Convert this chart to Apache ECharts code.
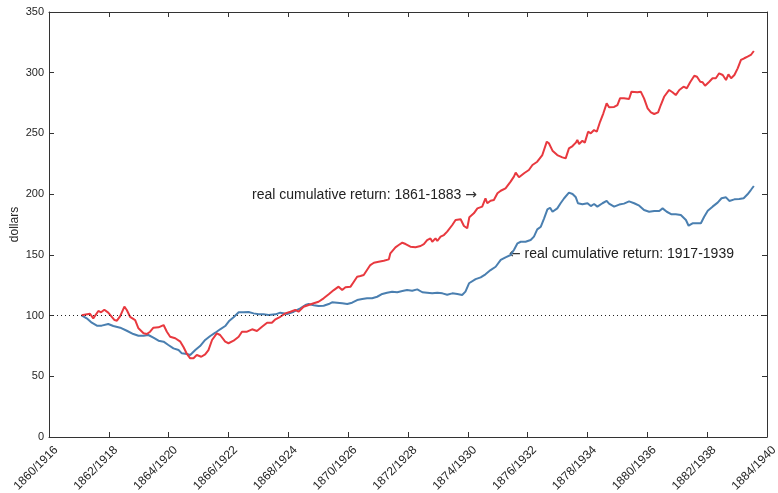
<!DOCTYPE html>
<html>
<head>
<meta charset="utf-8">
<script src="https://cdn.jsdelivr.net/npm/echarts@6/dist/echarts.min.js"></script>
<style>html,body{margin:0;padding:0;background:#fff}#c{width:778px;height:493px}</style>
</head>
<body>
<div id="c"></div>
<script>
// Tick labels for the x axis (year pairs)
var xTickLabels = ['1860/1916','1862/1918','1864/1920','1866/1922','1868/1924','1870/1926','1872/1928','1874/1930','1876/1932','1878/1934','1880/1936','1882/1938','1884/1940'];
var yTicks = [0, 50, 100, 150, 200, 250, 300, 350];

// real cumulative return 1861-1883 (red): year, dollars
var redYears = [1861.09,1861.37,1861.48,1861.65,1861.74,1861.85,1861.98,1862.19,1862.27,1862.38,1862.52,1862.60,1862.71,1862.88,1862.99,1863.16,1863.27,1863.38,1863.49,1863.66,1863.83,1863.94,1864.05,1864.22,1864.39,1864.50,1864.61,1864.72,1864.83,1864.94,1865.09,1865.22,1865.33,1865.45,1865.61,1865.72,1865.89,1866.00,1866.17,1866.34,1866.45,1866.62,1866.79,1866.95,1867.12,1867.29,1867.45,1867.57,1867.73,1867.90,1868.07,1868.23,1868.34,1868.51,1868.68,1868.85,1869.01,1869.18,1869.35,1869.52,1869.68,1869.80,1869.91,1870.08,1870.19,1870.30,1870.41,1870.52,1870.63,1870.74,1870.86,1871.02,1871.19,1871.36,1871.41,1871.58,1871.69,1871.81,1871.92,1872.08,1872.25,1872.42,1872.53,1872.64,1872.75,1872.81,1872.92,1872.98,1873.09,1873.20,1873.31,1873.48,1873.59,1873.76,1873.87,1873.98,1874.05,1874.20,1874.32,1874.48,1874.59,1874.65,1874.76,1874.87,1874.99,1875.10,1875.26,1875.43,1875.54,1875.60,1875.71,1875.88,1876.04,1876.16,1876.32,1876.49,1876.64,1876.71,1876.83,1876.99,1877.16,1877.27,1877.38,1877.50,1877.61,1877.66,1877.72,1877.83,1877.91,1878.02,1878.11,1878.22,1878.31,1878.42,1878.53,1878.64,1878.72,1878.89,1879.00,1879.09,1879.22,1879.39,1879.47,1879.67,1879.78,1879.89,1880.01,1880.12,1880.23,1880.36,1880.45,1880.56,1880.73,1880.84,1880.95,1881.07,1881.21,1881.32,1881.43,1881.57,1881.66,1881.77,1881.85,1881.93,1882.07,1882.18,1882.29,1882.40,1882.52,1882.63,1882.71,1882.80,1882.91,1883.02,1883.13,1883.24,1883.35,1883.46,1883.56];
var redValues = [100.2,101.5,97.7,103.8,102.7,104.8,102.4,96.3,95.8,99.6,107.3,104.6,99.0,96.3,89.5,85.4,84.8,86.7,90.0,90.3,92.2,86.7,82.6,81.3,78.5,73.9,68.4,64.8,64.8,67.5,66.1,68.1,71.6,79.9,85.4,84.0,78.5,77.2,79.3,82.6,86.7,86.7,88.7,87.3,90.8,94.1,94.1,96.9,99.0,101.8,103.2,104.6,103.2,107.3,108.7,110.1,111.4,114.2,117.5,121.0,123.8,121.0,123.3,123.8,127.9,132.0,132.6,133.4,137.5,141.6,143.5,144.4,145.2,146.3,151.3,156.2,158.1,160.0,158.9,156.7,156.2,157.3,158.9,162.2,163.6,160.8,163.6,161.4,165.0,166.3,169.1,174.6,178.7,179.3,173.8,171.9,181.0,184.2,188.3,189.7,196.6,192.5,194.6,195.2,200.7,202.8,204.8,210.3,214.4,217.7,213.9,217.2,219.9,224.0,226.7,232.2,243.2,241.9,235.8,232.2,230.3,229.5,237.7,239.6,242.4,244.6,241.3,244.0,242.4,251.4,250.1,252.8,251.4,259.6,266.6,274.8,271.5,271.8,273.4,279.0,278.9,278.4,284.4,283.9,284.4,278.9,270.7,267.4,266.0,267.4,273.4,280.2,285.8,283.9,281.6,285.8,288.5,287.2,292.1,297.5,296.7,292.6,292.1,289.3,292.6,295.4,295.4,299.5,298.1,294.0,298.7,295.4,298.1,303.6,310.5,311.9,313.2,314.6,317.9];

// real cumulative return 1917-1939 (blue): year (1861-1883 scale), dollars
var blueYears = [1861.09,1861.26,1861.43,1861.60,1861.76,1861.98,1862.15,1862.38,1862.60,1862.82,1862.99,1863.16,1863.32,1863.49,1863.66,1863.83,1863.99,1864.16,1864.33,1864.44,1864.61,1864.72,1864.89,1865.05,1865.22,1865.39,1865.56,1865.72,1865.89,1866.03,1866.17,1866.34,1866.50,1866.67,1866.84,1867.01,1867.17,1867.34,1867.57,1867.73,1867.96,1868.18,1868.40,1868.57,1868.68,1868.85,1869.01,1869.18,1869.35,1869.46,1869.63,1869.80,1869.97,1870.13,1870.30,1870.47,1870.63,1870.80,1870.97,1871.14,1871.30,1871.47,1871.64,1871.81,1871.97,1872.14,1872.31,1872.48,1872.64,1872.81,1872.98,1873.15,1873.31,1873.48,1873.65,1873.81,1873.92,1874.04,1874.09,1874.26,1874.43,1874.59,1874.76,1874.93,1875.10,1875.26,1875.43,1875.54,1875.66,1875.77,1875.93,1876.10,1876.21,1876.32,1876.44,1876.55,1876.66,1876.75,1876.83,1876.99,1877.10,1877.22,1877.38,1877.50,1877.61,1877.68,1877.83,1878.00,1878.11,1878.22,1878.33,1878.50,1878.64,1878.72,1878.89,1879.06,1879.22,1879.39,1879.56,1879.73,1879.89,1880.06,1880.23,1880.40,1880.51,1880.65,1880.81,1880.95,1881.12,1881.29,1881.38,1881.51,1881.68,1881.79,1881.90,1882.02,1882.18,1882.35,1882.48,1882.63,1882.74,1882.91,1883.07,1883.22,1883.35,1883.46,1883.56];
var blueValues = [100.2,97.7,94.1,91.7,91.7,93.1,91.4,90.0,87.5,84.8,83.4,83.4,84.0,81.8,79.3,78.5,75.8,73.0,71.6,68.9,68.4,67.5,71.6,74.9,79.9,83.2,85.9,88.7,91.4,95.8,98.6,102.7,102.7,102.9,101.8,101.0,101.0,100.5,101.0,102.4,101.3,103.2,106.0,108.7,109.5,108.5,107.9,108.1,109.5,110.9,110.6,110.1,109.5,110.6,112.8,113.6,114.2,114.2,115.5,117.8,118.8,119.7,119.2,120.2,121.0,120.5,121.6,119.2,118.8,118.3,118.8,118.3,117.2,118.3,117.8,116.9,119.7,126.6,127.9,130.0,131.5,134.0,137.5,140.2,145.8,148.0,149.9,154.0,159.5,160.8,160.8,162.2,165.0,171.0,173.2,180.1,187.4,188.8,185.5,188.3,192.5,196.6,201.2,200.1,197.4,192.5,191.6,192.5,190.2,191.9,189.7,192.5,194.4,192.2,189.7,191.4,192.2,194.0,192.5,190.5,186.9,185.5,186.1,186.1,188.3,185.5,183.4,183.4,182.8,178.7,174.0,176.0,176.0,176.0,181.4,186.4,189.7,193.0,196.6,197.4,194.4,195.7,196.0,196.6,199.9,203.4,206.7];

var baseline = 100;
var annoRedText = 'real cumulative return: 1861-1883';
var annoBlueText = 'real cumulative return: 1917-1939';

function zip(a, b) { return a.map(function (v, i) { return [v, b[i]]; }); }

var chart = echarts.init(document.getElementById('c'), null, { renderer: 'canvas' });
var font = 'Liberation Sans, Arial, Helvetica, sans-serif';
var axisLineStyle = { color: '#333', width: 1 };
var xMin = 1860, xMax = 1884, xStep = 2;
var arrowRich = { a: { fontFamily: 'DejaVu Sans', fontSize: 14, fill: '#333', color: '#333' } };

chart.setOption({
  animation: false,
  backgroundColor: '#fff',
  textStyle: { fontFamily: font },
  grid: { left: 49, right: 11, top: 12, bottom: 56, containLabel: false, outerBoundsMode: 'none' },
  xAxis: [{
    type: 'value', min: xMin, max: xMax, interval: xStep, position: 'bottom',
    axisLine: { show: true, onZero: false, lineStyle: axisLineStyle },
    axisTick: { show: true, inside: true, length: 5, lineStyle: axisLineStyle },
    splitLine: { show: false },
    axisLabel: {
      rotate: 45, fontSize: 12, color: '#262626', fontFamily: font, margin: 4,
      verticalAlign: 'top', padding: [4, 0, 0, 0],
      formatter: function (v) { return xTickLabels[Math.round((v - xMin) / xStep)] || ''; }
    }
  }, {
    type: 'value', min: xMin, max: xMax, interval: xStep, position: 'top',
    axisLine: { show: true, onZero: false, lineStyle: axisLineStyle },
    axisTick: { show: true, inside: true, length: 5, lineStyle: axisLineStyle },
    axisLabel: { show: false }, splitLine: { show: false }
  }],
  yAxis: [{
    type: 'value', min: yTicks[0], max: yTicks[yTicks.length - 1], interval: 50, position: 'left',
    name: 'dollars', nameLocation: 'middle', nameGap: 28, nameMoveOverlap: false,
    nameTextStyle: { fontSize: 12, color: '#262626', fontFamily: font },
    axisLine: { show: true, onZero: false, lineStyle: axisLineStyle },
    axisTick: { show: true, inside: true, length: 5, lineStyle: axisLineStyle },
    splitLine: { show: false },
    axisLabel: { fontSize: 11, color: '#262626', fontFamily: font, margin: 5 }
  }, {
    type: 'value', min: yTicks[0], max: yTicks[yTicks.length - 1], interval: 50, position: 'right',
    axisLine: { show: true, onZero: false, lineStyle: axisLineStyle },
    axisTick: { show: true, inside: true, length: 5, lineStyle: axisLineStyle },
    axisLabel: { show: false }, splitLine: { show: false }
  }],
  series: [{
    type: 'line', name: annoRedText, data: zip(redYears, redValues),
    showSymbol: false, symbol: 'none',
    lineStyle: { color: '#e8393f', width: 2 }, itemStyle: { color: '#e8393f' },
    markLine: {
      silent: true, symbol: 'none', label: { show: false },
      lineStyle: { color: '#222', type: [1, 3], width: 1 },
      data: [{ yAxis: baseline }]
    },
    z: 3
  }, {
    type: 'line', name: annoBlueText, data: zip(blueYears, blueValues),
    showSymbol: false, symbol: 'none',
    lineStyle: { color: '#4a7fb0', width: 2 }, itemStyle: { color: '#4a7fb0' },
    z: 2
  }],
  graphic: [{
    type: 'text', right: 778 - 477, top: 188,
    style: { text: annoRedText + ' {a|\u2192}', rich: arrowRich, fontSize: 14, fill: '#222', fontFamily: font }
  }, {
    type: 'text', left: 509, top: 247,
    style: { text: '{a|\u2190} ' + annoBlueText, rich: arrowRich, fontSize: 14, fill: '#222', fontFamily: font }
  }]
});
</script>
</body>
</html>
